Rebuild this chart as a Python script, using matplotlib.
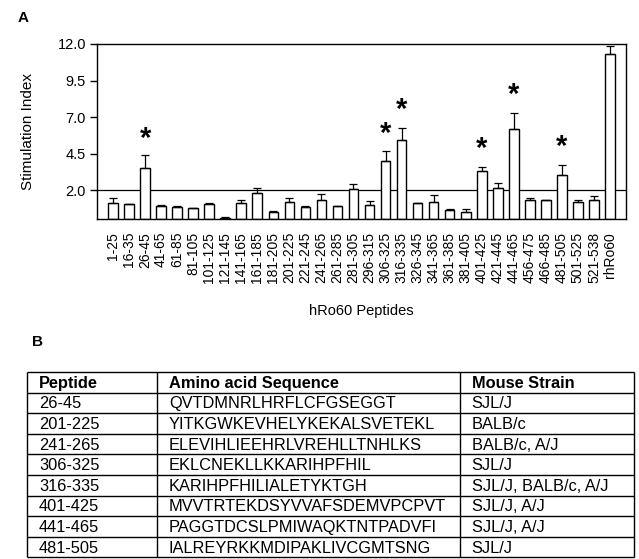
import numpy as np
import matplotlib
matplotlib.use("Agg")
import matplotlib.pyplot as plt

plt.rcParams['font.family'] = ['Liberation Sans', 'DejaVu Sans']

# Panel A : stimulation index per peptide
peptides_a = ['1-25', '16-35', '26-45', '41-65', '61-85', '81-105', '101-125', '121-145',
              '141-165', '161-185', '181-205', '201-225', '221-245', '241-265', '261-285',
              '281-305', '296-315', '306-325', '316-335', '326-345', '341-365', '361-385',
              '381-405', '401-425', '421-445', '441-465', '456-475', '466-485', '481-505',
              '501-525', '521-538', 'rhRo60']
si = np.array([1.10, 1.05, 3.49, 0.91, 0.86, 0.77, 1.07, 0.11,
               1.11, 1.77, 0.52, 1.19, 0.86, 1.35, 0.91,
               2.05, 0.98, 4.01, 5.43, 1.10, 1.18, 0.64,
               0.50, 3.33, 2.17, 6.18, 1.30, 1.32, 3.01,
               1.16, 1.32, 11.30])
err = np.array([0.38, 0.03, 0.94, 0.04, 0.03, 0.03, 0.03, 0.02,
                0.22, 0.34, 0.02, 0.30, 0.04, 0.36, 0.03,
                0.37, 0.25, 0.69, 0.80, 0.04, 0.48, 0.05,
                0.21, 0.25, 0.29, 1.12, 0.18, 0.03, 0.73,
                0.18, 0.30, 0.59])
# significant peptides (index) and height of the star
star_idx = [2, 17, 18, 23, 25, 28]
star_y = [6.10, 6.46, 8.05, 5.43, 9.08, 5.54]
threshold = 2.0

# Panel B : table
tab_header = ['Peptide', 'Amino acid Sequence', 'Mouse Strain']
tab_peptide = ['26-45', '201-225', '241-265', '306-325', '316-335', '401-425', '441-465', '481-505']
tab_seq = ['QVTDMNRLHRFLCFGSEGGT', 'YITKGWKEVHELYKEKALSVETEKL', 'ELEVIHLIEEHRLVREHLLTNHLKS',
           'EKLCNEKLLKKARIHPFHIL', 'KARIHPFHILIALETYKTGH', 'MVVTRTEKDSYVVAFSDEMVPCPVT',
           'PAGGTDCSLPMIWAQKTNTPADVFI', 'IALREYRKKMDIPAKLIVCGMTSNG']
tab_strain = ['SJL/J', 'BALB/c', 'BALB/c, A/J', 'SJL/J', 'SJL/J, BALB/c, A/J',
              'SJL/J, A/J', 'SJL/J, A/J', 'SJL/J']

fig = plt.figure(figsize=(6.39, 5.59), dpi=100)

#########
# PANEL A
#########
ax = fig.add_axes([97/639, 1-219.3/559, (626-97)/639, (219.3-44)/559])
x = np.arange(len(si))
ax.axhline(threshold, color='black', lw=0.9, zorder=1)
ax.bar(x, si, width=0.6, color='white', edgecolor='black', linewidth=1.0, zorder=2)
ax.errorbar(x, si, yerr=[np.zeros_like(err), err], fmt='none', ecolor='black',
            elinewidth=0.9, capsize=3, capthick=0.9, zorder=3)
for i, ys in zip(star_idx, star_y):
    ax.annotate('*', xy=(x[i], ys), xytext=(0, -0.57*21), textcoords='offset points',
                ha='center', va='baseline', fontsize=21, fontweight='bold')

ax.set_xlim(-1, len(si))
ax.set_ylim(0, 12)
ax.set_yticks([2.0, 4.5, 7.0, 9.5, 12.0])
ax.set_yticklabels(['%.1f' % v for v in [2.0, 4.5, 7.0, 9.5, 12.0]], fontsize=10.5)
ax.set_xticks(x)
ax.set_xticklabels(peptides_a, rotation=90, fontsize=10)
ax.tick_params(axis='x', length=0, pad=9)
ax.tick_params(axis='y', length=5, width=1, direction='out', pad=3)
for s in ax.spines.values():
    s.set_linewidth(1.0)
ax.set_ylabel('Stimulation Index', fontsize=11, labelpad=16)
fig.text(361.5/639, 1-311.5/559, 'hRo60 Peptides', ha='center', va='center', fontsize=10.5)
fig.text(18/639, 1-18/559, 'A', ha='left', va='center', fontsize=11, fontweight='bold')
fig.text(32/639, 1-342/559, 'B', ha='left', va='center', fontsize=11, fontweight='bold')

#########
# PANEL B
#########
axt = fig.add_axes([0, 0, 1, 1])
axt.set_xlim(0, 639)
axt.set_ylim(559, 0)
axt.axis('off')

col_edges = [27, 157, 459.5, 634]
top, row_h = 372, 20.6
rows = [tab_header] + [list(r) for r in zip(tab_peptide, tab_seq, tab_strain)]
n_rows = len(rows)
axt.hlines([top + k*row_h for k in range(n_rows + 1)], col_edges[0], col_edges[-1],
           color='black', lw=1.0)
axt.vlines(col_edges, top, top + n_rows*row_h, color='black', lw=1.0)
for r, row in enumerate(rows):
    yc = top + (r + 0.5)*row_h
    for c, txt in enumerate(row):
        axt.text(col_edges[c] + 12, yc + 1, txt, ha='left', va='center', fontsize=11.8,
                 fontweight='bold' if r == 0 else 'normal')

fig.savefig('out.png', dpi=100)
